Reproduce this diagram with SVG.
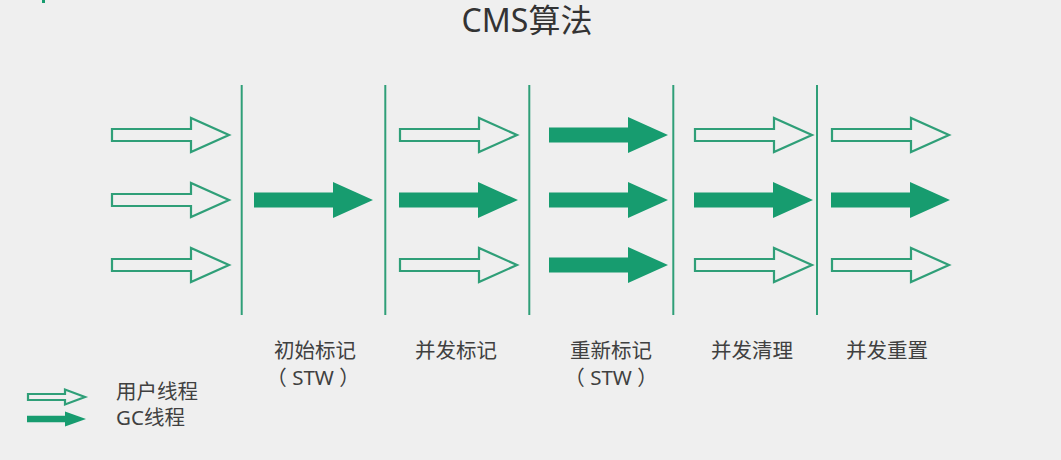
<svg xmlns="http://www.w3.org/2000/svg" xmlns:xlink="http://www.w3.org/1999/xlink" width="1061" height="460" viewBox="0 0 1061 460">
<style>
.bg{fill:#efefef}
.div{stroke:#2f9f78;stroke-width:2}
.ao{fill:none;stroke:#2f9f78;stroke-width:2.2;stroke-linejoin:miter}
.af{fill:#179c6f;stroke:none}
.t{font-family:"Noto Sans","Noto Sans CJK SC",sans-serif;fill:#404040}
.lbl{font-size:20.5px;text-anchor:middle}
.leg{font-size:20.5px}
.title{font-size:32px;text-anchor:middle;fill:#333333}
</style>
<defs>
<path id="arrO" d="M0,-6 H79 V-17 L117,0 L79,17 V6 H0 Z"/>
<path id="arrF" d="M0,-7.5 H79 V-18 L119,0 L79,18 V7.5 H0 Z"/>
</defs>
<rect class="bg" x="0" y="0" width="1061" height="460"/>
<rect x="42" y="0" width="3" height="3" fill="#179c6f"/>
<g id="title"><text class="t title" x="527" y="32">CMS算法</text></g>
<g id="connectors">
<line class="div" x1="241.7" y1="85" x2="241.7" y2="315"/>
<line class="div" x1="385.3" y1="85" x2="385.3" y2="315"/>
<line class="div" x1="529.3" y1="85" x2="529.3" y2="315"/>
<line class="div" x1="673.3" y1="85" x2="673.3" y2="315"/>
<line class="div" x1="817" y1="85" x2="817" y2="315"/>
</g>
<g id="col-user">
<use href="#arrO" class="ao" transform="translate(112,135)"/>
<use href="#arrO" class="ao" transform="translate(112,200)"/>
<use href="#arrO" class="ao" transform="translate(112,265)"/>
</g>
<g id="col-initial-mark">
<use href="#arrF" class="af" transform="translate(254,200)"/>
<text class="t lbl" x="315" y="358">初始标记</text>
<text class="t lbl" x="313" y="385">（ STW ）</text>
</g>
<g id="col-concurrent-mark">
<use href="#arrO" class="ao" transform="translate(400,135)"/>
<use href="#arrF" class="af" transform="translate(399,200)"/>
<use href="#arrO" class="ao" transform="translate(400,265)"/>
<text class="t lbl" x="456" y="358">并发标记</text>
</g>
<g id="col-remark">
<use href="#arrF" class="af" transform="translate(549,135)"/>
<use href="#arrF" class="af" transform="translate(549,200)"/>
<use href="#arrF" class="af" transform="translate(549,265)"/>
<text class="t lbl" x="611" y="358">重新标记</text>
<text class="t lbl" x="611" y="385">（ STW ）</text>
</g>
<g id="col-concurrent-sweep">
<use href="#arrO" class="ao" transform="translate(695,135)"/>
<use href="#arrF" class="af" transform="translate(694,200)"/>
<use href="#arrO" class="ao" transform="translate(695,265)"/>
<text class="t lbl" x="752" y="358">并发清理</text>
</g>
<g id="col-concurrent-reset">
<use href="#arrO" class="ao" transform="translate(832,135)"/>
<use href="#arrF" class="af" transform="translate(831,200)"/>
<use href="#arrO" class="ao" transform="translate(832,265)"/>
<text class="t lbl" x="887" y="358">并发重置</text>
</g>
<g id="legend">
<path class="ao" d="M28,-3 H65 V-7.5 L85,0 L65,7.5 V3 H28 Z" transform="translate(0,397)"/>
<path class="af" d="M27,-3.3 H65 V-7.5 L86,0 L65,7.5 V3.3 H27 Z" transform="translate(0,419)"/>
<text class="t leg" x="116" y="399">用户线程</text>
<text class="t leg" x="116" y="425">GC线程</text>
</g>
</svg>
